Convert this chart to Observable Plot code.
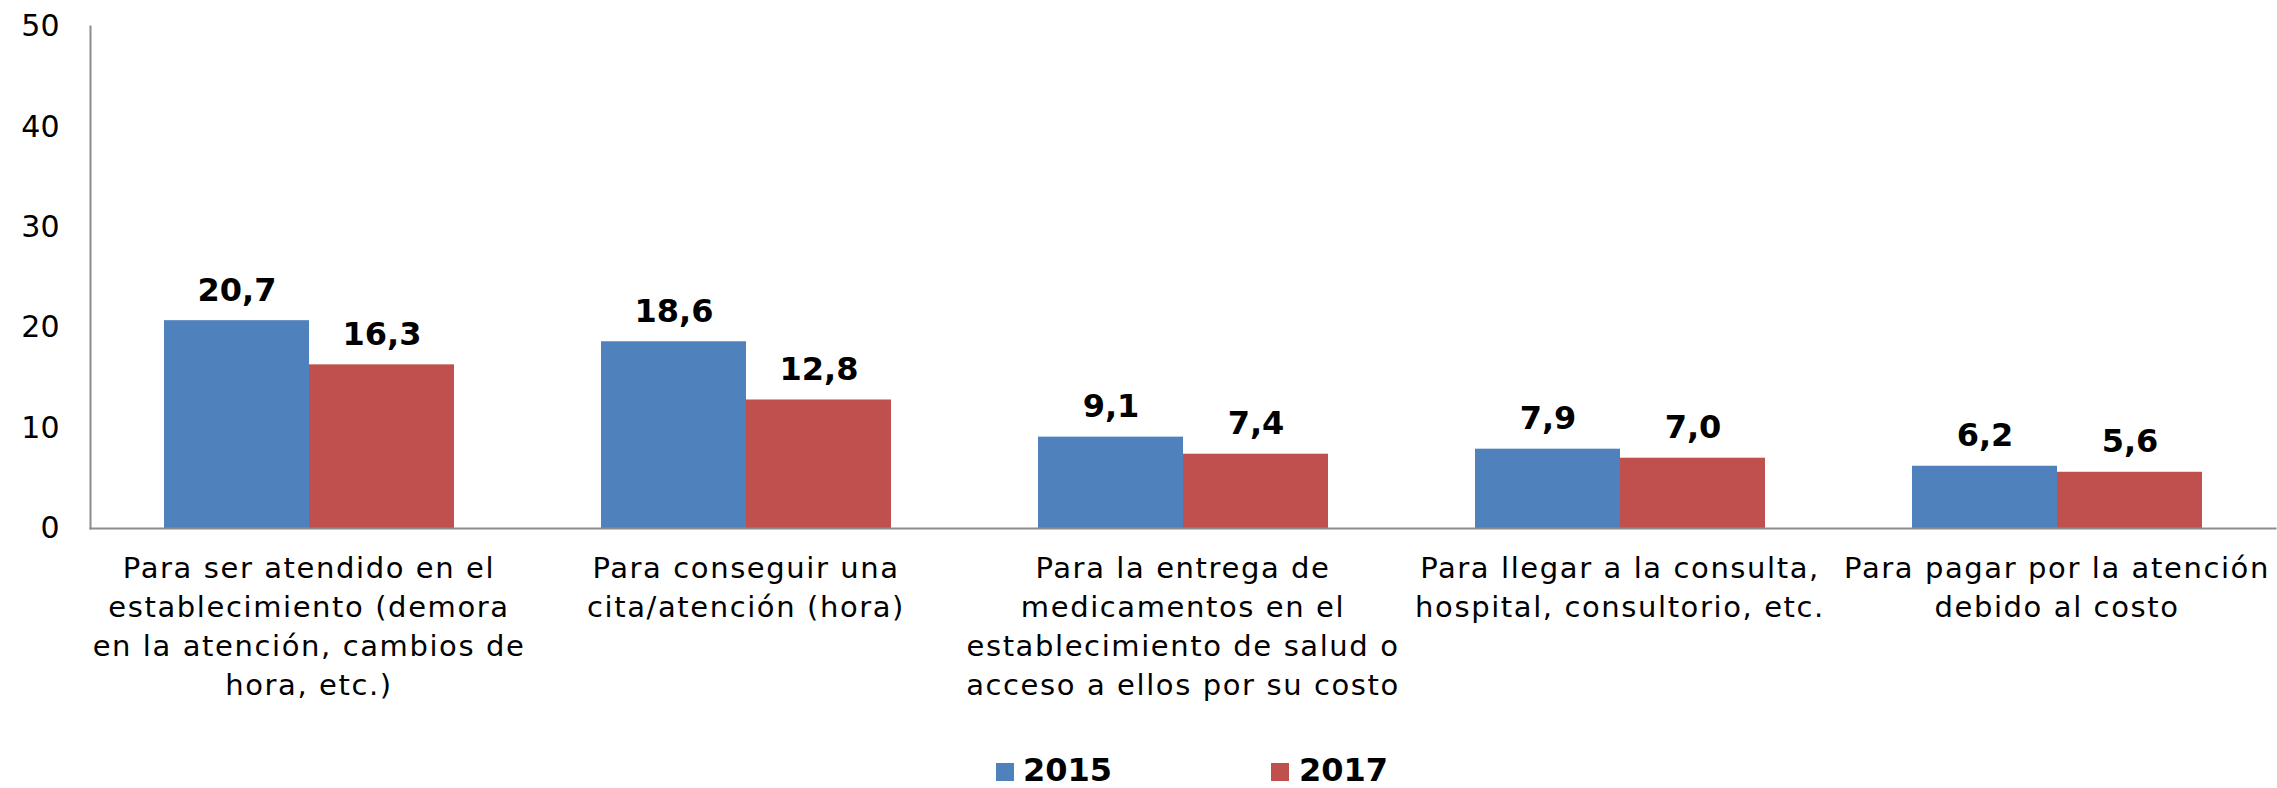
<!DOCTYPE html>
<html>
<head>
<meta charset="utf-8">
<script src="https://cdn.jsdelivr.net/npm/d3@7"></script>
<script src="https://cdn.jsdelivr.net/npm/@observablehq/plot@0.6"></script>
<style>
  html, body { margin: 0; padding: 0; background: #fff; }
  body { width: 2277px; height: 788px; overflow: hidden; font-family: "DejaVu Sans", Verdana, sans-serif; position: relative; }
  #legend { position: absolute; left: 996px; top: 754px; display: flex; align-items: flex-start; font-weight: bold; font-size: 32px; line-height: 32px; color: #000; white-space: nowrap; }
  .item { display: flex; align-items: flex-start; }
  .sw { width: 18px; height: 18px; display: inline-block; margin-top: 9px; margin-right: 9px; }
</style>
</head>
<body>
<div id="chart"></div>
<div id="legend"></div>
<script>
const categories = [
  "Para ser atendido en el\nestablecimiento (demora\nen la atención, cambios de\nhora, etc.)",
  "Para conseguir una\ncita/atención (hora)",
  "Para la entrega de\nmedicamentos en el\nestablecimiento de salud o\nacceso a ellos por su costo",
  "Para llegar a la consulta,\nhospital, consultorio, etc.",
  "Para pagar por la atención\ndebido al costo"
];
const years = ["2015", "2017"];
const values2015 = [20.7, 18.6, 9.1, 7.9, 6.2];
const values2017 = [16.3, 12.8, 7.4, 7.0, 5.6];
const colors = ["#4F81BD", "#C0504D"];
const yTicks = [0, 10, 20, 30, 40, 50];

const data = [];
categories.forEach((c, i) => {
  data.push({cat: c, year: years[0], value: values2015[i]});
  data.push({cat: c, year: years[1], value: values2017[i]});
});

const fmt = v => v.toFixed(1).replace(".", ",");

const chart = Plot.plot({
  width: 2277,
  height: 754,
  marginLeft: 88,
  marginRight: 0,
  marginTop: 26,
  marginBottom: 226,
  style: {fontFamily: "DejaVu Sans, Verdana, sans-serif", fontSize: "29px", color: "#000", background: "#fff"},
  fx: {domain: categories, paddingInner: 0, paddingOuter: 0, axis: null, label: null},
  x: {domain: years, paddingInner: 0, paddingOuter: 0.5, axis: null},
  y: {domain: [0, 50], ticks: yTicks, label: null},
  color: {domain: years, range: colors},
  marks: [
    Plot.axisY({ticks: yTicks, tickSize: 0, tickPadding: 31, fontSize: 30, label: null, tickFormat: d => String(d)}),
    Plot.barY(data, {fx: "cat", x: "year", y: "value", fill: "year"}),
    Plot.text(data, {fx: "cat", x: "year", y: "value", text: d => fmt(d.value), lineAnchor: "bottom", dy: -20, fontSize: 32, fontWeight: "bold", fill: "#000"}),
    Plot.text(categories, {fx: d => d, text: d => d, frameAnchor: "bottom", lineAnchor: "top", dy: 22, fontSize: 29, lineHeight: 1.345, fill: "#000"}),
    Plot.frame({anchor: "bottom", facet: "super", stroke: "#8c8c8c", strokeWidth: 2}),
    Plot.frame({anchor: "left", facet: "super", stroke: "#8c8c8c", strokeWidth: 2})
  ]
});
document.getElementById("chart").appendChild(chart);

// widen multi-line category labels slightly to approximate Verdana
d3.select(chart).selectAll("text").filter(function() { return this.querySelector("tspan") !== null; })
  .style("letter-spacing", "1.6px");

const legend = document.getElementById("legend");
years.forEach((y, i) => {
  const item = document.createElement("div");
  item.className = "item";
  item.style.marginRight = i === 0 ? "159px" : "0";
  const sw = document.createElement("span");
  sw.className = "sw";
  sw.style.background = colors[i];
  if (i === 1) sw.style.marginRight = "10px";
  const t = document.createElement("span");
  t.textContent = y;
  item.appendChild(sw);
  item.appendChild(t);
  legend.appendChild(item);
});
</script>
</body>
</html>
